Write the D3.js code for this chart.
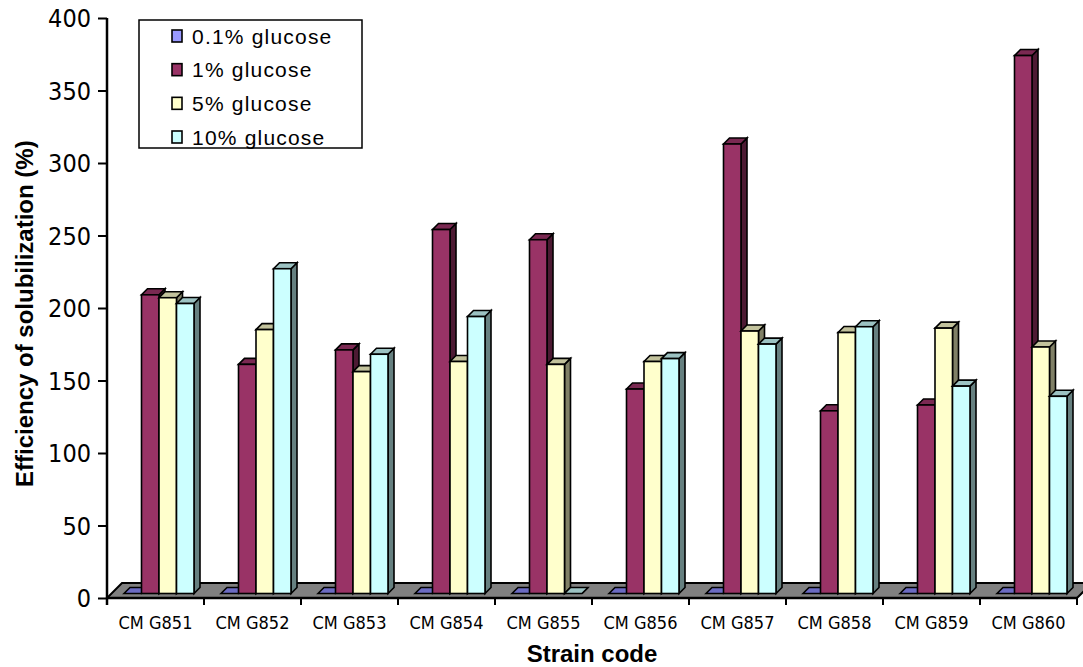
<!DOCTYPE html>
<html>
<head>
<meta charset="utf-8">
<script src="https://cdn.jsdelivr.net/npm/d3@7"></script>
<style>
  html, body { margin: 0; padding: 0; background: #fff; }
  svg { display: block; }
  .narrow { font-family: "Liberation Sans Narrow", "Arial Narrow", "DejaVu Sans Condensed", sans-serif; }
</style>
</head>
<body>
<svg id="chart" width="1083" height="667"></svg>
<script>
const categories = ["CM G851", "CM G852", "CM G853", "CM G854", "CM G855", "CM G856", "CM G857", "CM G858", "CM G859", "CM G860"];
const seriesNames = ["0.1% glucose", "1% glucose", "5% glucose", "10% glucose"];
const glucose01 = [0, 0, 0, 0, 0, 0, 0, 0, 0, 0];
const glucose1  = [206, 158, 168, 251, 244, 141, 310, 126, 130, 371];
const glucose5  = [204, 182, 153, 160, 158, 160, 181, 180, 183, 170];
const glucose10 = [200, 224, 165, 191, 0, 162, 172, 184, 143, 136];
const yTicks = [0, 50, 100, 150, 200, 250, 300, 350, 400];

const seriesValues = [glucose01, glucose1, glucose5, glucose10];
const frontColors = ["#9999FF", "#993366", "#FFFFCC", "#CCFFFF"];
const topColors   = ["#6B6BC2", "#7A2952", "#C2C29C", "#9CC2C2"];
const sideColors  = ["#4D4D80", "#4D1A33", "#808066", "#668080"];
const sansFont = "'Liberation Sans', Arial, Helvetica, sans-serif";

const svg = d3.select("#chart");
const x0 = 107, x1 = 1077, yBase = 598, yTop = 18;
const floorDepth = 15;
const barShift = 4.5;
const barDepth = 6;
const barW = 17.5;

const x = d3.scaleBand().domain(categories).range([x0, x1]).padding(0);
const y = d3.scaleLinear().domain([0, 400]).range([yBase, yTop]);

// Floor
svg.append("polygon")
  .attr("points", [[x0, yBase], [x1, yBase], [x1 + floorDepth, yBase - floorDepth], [x0 + floorDepth, yBase - floorDepth]].map(p => p.join(",")).join(" "))
  .attr("fill", "#808080").attr("stroke", "#000").attr("stroke-width", 2).attr("stroke-linejoin", "miter");

// Bars
const groupW = barW * 4;
categories.forEach((cat, ci) => {
  const gx = x(cat) + (x.bandwidth() - groupW) / 2 + barShift - 1;
  seriesValues.forEach((vals, si) => {
    const v = vals[ci];
    const bx = gx + si * barW;
    const by0 = y(0) - barShift;
    const by = y(v) - barShift;
    const g = svg.append("g").attr("stroke", "#000").attr("stroke-width", 1.6).attr("stroke-linejoin", "miter");
    g.append("polygon")
      .attr("points", [[bx + barW, by], [bx + barW + barDepth, by - barDepth], [bx + barW + barDepth, by0 - barDepth], [bx + barW, by0]].map(p => p.join(",")).join(" "))
      .attr("fill", sideColors[si]);
    g.append("polygon")
      .attr("points", [[bx, by], [bx + barDepth, by - barDepth], [bx + barW + barDepth, by - barDepth], [bx + barW, by]].map(p => p.join(",")).join(" "))
      .attr("fill", topColors[si]);
    g.append("rect")
      .attr("x", bx).attr("y", by).attr("width", barW).attr("height", Math.max(0, by0 - by))
      .attr("fill", frontColors[si]);
  });
});

// Y axis
const yAxis = d3.axisLeft(y).tickValues(yTicks).tickSize(9).tickPadding(7).tickSizeOuter(0);
const ya = svg.append("g").attr("transform", `translate(${x0},0)`).call(yAxis);
ya.select(".domain").attr("stroke", "#000").attr("stroke-width", 2.5).attr("d", `M0,${yTop}V${yBase + 7}`);
ya.selectAll(".tick line").attr("stroke", "#000").attr("stroke-width", 2);
ya.selectAll(".tick text").attr("class", "narrow").attr("font-size", 25).attr("fill", "#000").attr("dy", "0.35em");

// X axis
const xa = svg.append("g");
xa.append("line").attr("x1", x0).attr("x2", x1).attr("y1", yBase).attr("y2", yBase).attr("stroke", "#000").attr("stroke-width", 2.5);
const edges = categories.map(c => x(c)).concat([x1]);
xa.selectAll("line.tk").data(edges).enter().append("line")
  .attr("class", "tk")
  .attr("x1", d => d).attr("x2", d => d).attr("y1", yBase).attr("y2", yBase + 7)
  .attr("stroke", "#000").attr("stroke-width", 2);
xa.selectAll("text").data(categories).enter().append("text")
  .attr("class", "narrow")
  .attr("x", d => x(d) + x.bandwidth() / 2)
  .attr("y", 629)
  .attr("text-anchor", "middle")
  .attr("font-size", 18)
  .attr("fill", "#000")
  .text(d => d);

// Axis titles
svg.append("text")
  .attr("transform", "translate(33,487) rotate(-90)")
  .attr("text-anchor", "start")
  .attr("font-family", sansFont)
  .attr("font-weight", "bold")
  .attr("font-size", 24)
  .attr("fill", "#000")
  .text("Efficiency of solubilization (%)");

svg.append("text")
  .attr("x", 592).attr("y", 662)
  .attr("text-anchor", "middle")
  .attr("font-family", sansFont)
  .attr("font-weight", "bold")
  .attr("font-size", 24)
  .attr("fill", "#000")
  .text("Strain code");

// Legend
const lg = svg.append("g");
lg.append("rect").attr("x", 139).attr("y", 20).attr("width", 223).attr("height", 128)
  .attr("fill", "#fff").attr("stroke", "#000").attr("stroke-width", 1.5);
const ly = d3.scalePoint().domain(seriesNames).range([36, 137]);
seriesNames.forEach((name, i) => {
  lg.append("rect").attr("x", 172).attr("y", ly(name) - 6).attr("width", 10).attr("height", 12)
    .attr("fill", frontColors[i]).attr("stroke", "#000").attr("stroke-width", 1.6);
  lg.append("text").attr("x", 192).attr("y", ly(name) + 7.5)
    .attr("font-family", sansFont)
    .attr("font-size", 21).attr("letter-spacing", 1.2).attr("fill", "#000")
    .text(name);
});
</script>
</body>
</html>
